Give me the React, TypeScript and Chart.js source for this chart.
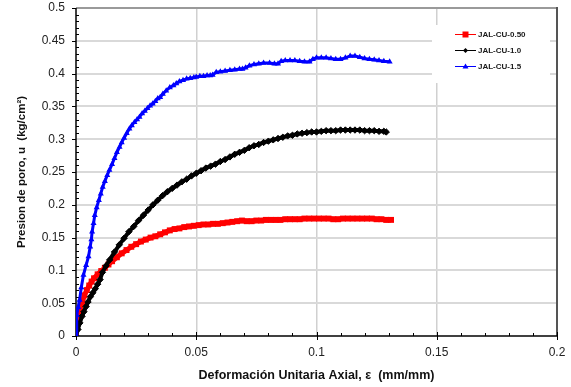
import React, { useEffect, useRef } from "react";
import { Chart, registerables } from "chart.js";

Chart.register(...registerables);

const seriesNames = ["JAL-CU-0.50", "JAL-CU-1.0", "JAL-CU-1.5"];
const seriesColors = ["#ff0000", "#000000", "#0000ff"];

const redStrain = [0, 0.0005, 0.001, 0.0017, 0.0025, 0.0035, 0.0045, 0.0055, 0.0065, 0.0075, 0.009, 0.0105, 0.012, 0.0135, 0.015, 0.017, 0.019, 0.021, 0.023, 0.025, 0.027, 0.029, 0.031, 0.033, 0.035, 0.037, 0.039, 0.041, 0.043, 0.045, 0.047, 0.049, 0.051, 0.053, 0.055, 0.057, 0.059, 0.061, 0.063, 0.065, 0.067, 0.069, 0.071, 0.073, 0.075, 0.077, 0.079, 0.081, 0.083, 0.085, 0.087, 0.089, 0.091, 0.093, 0.095, 0.097, 0.099, 0.101, 0.103, 0.105, 0.107, 0.109, 0.111, 0.113, 0.115, 0.117, 0.119, 0.121, 0.123, 0.125, 0.127, 0.129, 0.131];
const redPressure = [0.005, 0.02, 0.03, 0.04, 0.05, 0.062, 0.07, 0.077, 0.083, 0.088, 0.094, 0.099, 0.104, 0.109, 0.114, 0.12, 0.126, 0.131, 0.136, 0.14, 0.144, 0.147, 0.15, 0.152, 0.155, 0.158, 0.161, 0.163, 0.164, 0.166, 0.167, 0.168, 0.169, 0.17, 0.17, 0.171, 0.171, 0.172, 0.173, 0.174, 0.175, 0.176, 0.175, 0.175, 0.176, 0.176, 0.177, 0.177, 0.177, 0.177, 0.178, 0.178, 0.178, 0.178, 0.179, 0.179, 0.179, 0.179, 0.179, 0.179, 0.178, 0.178, 0.179, 0.179, 0.179, 0.179, 0.179, 0.179, 0.179, 0.178, 0.178, 0.177, 0.177];

const blackStrain = [0, 0.0008, 0.0016, 0.0025, 0.0033, 0.0042, 0.005, 0.006, 0.007, 0.008, 0.009, 0.01, 0.011, 0.0125, 0.014, 0.016, 0.018, 0.02, 0.022, 0.024, 0.026, 0.028, 0.03, 0.032, 0.034, 0.036, 0.038, 0.04, 0.042, 0.044, 0.046, 0.048, 0.05, 0.052, 0.054, 0.056, 0.058, 0.06, 0.062, 0.064, 0.066, 0.068, 0.07, 0.072, 0.074, 0.076, 0.078, 0.08, 0.082, 0.084, 0.086, 0.088, 0.09, 0.092, 0.094, 0.096, 0.098, 0.1, 0.102, 0.104, 0.106, 0.108, 0.11, 0.112, 0.114, 0.116, 0.118, 0.12, 0.122, 0.124, 0.126, 0.128, 0.129];
const blackPressure = [0, 0.01, 0.02, 0.03, 0.037, 0.045, 0.052, 0.06, 0.066, 0.072, 0.079, 0.086, 0.097, 0.107, 0.116, 0.128, 0.139, 0.149, 0.159, 0.167, 0.176, 0.184, 0.192, 0.2, 0.207, 0.214, 0.22, 0.225, 0.23, 0.235, 0.239, 0.244, 0.248, 0.252, 0.256, 0.259, 0.262, 0.266, 0.269, 0.273, 0.277, 0.28, 0.283, 0.287, 0.29, 0.292, 0.295, 0.297, 0.299, 0.301, 0.303, 0.305, 0.306, 0.308, 0.309, 0.31, 0.311, 0.311, 0.312, 0.313, 0.313, 0.313, 0.314, 0.314, 0.314, 0.314, 0.314, 0.313, 0.313, 0.313, 0.312, 0.312, 0.311];

const blueStrain = [0, 0.0003, 0.0009, 0.0015, 0.0022, 0.0031, 0.0042, 0.0052, 0.0059, 0.0064, 0.0067, 0.0073, 0.0078, 0.0086, 0.0095, 0.0103, 0.0111, 0.012, 0.013, 0.0139, 0.015, 0.016, 0.017, 0.0181, 0.019, 0.02, 0.0211, 0.0222, 0.0232, 0.0243, 0.0254, 0.0264, 0.0275, 0.0286, 0.0297, 0.0308, 0.0319, 0.033, 0.034, 0.035, 0.0361, 0.0375, 0.039, 0.0405, 0.0417, 0.043, 0.0445, 0.046, 0.0475, 0.049, 0.05, 0.0515, 0.053, 0.0545, 0.0558, 0.0568, 0.0583, 0.06, 0.062, 0.064, 0.066, 0.068, 0.0692, 0.0705, 0.0721, 0.074, 0.076, 0.078, 0.0805, 0.0825, 0.084, 0.0853, 0.087, 0.089, 0.091, 0.093, 0.095, 0.0971, 0.0985, 0.1, 0.102, 0.104, 0.106, 0.108, 0.11, 0.112, 0.114, 0.116, 0.118, 0.12, 0.122, 0.124, 0.126, 0.128, 0.1304];
const bluePressure = [0, 0.032, 0.044, 0.055, 0.074, 0.093, 0.108, 0.121, 0.136, 0.147, 0.159, 0.172, 0.184, 0.196, 0.207, 0.217, 0.227, 0.236, 0.245, 0.253, 0.262, 0.271, 0.28, 0.288, 0.295, 0.302, 0.309, 0.316, 0.321, 0.326, 0.33, 0.334, 0.339, 0.343, 0.347, 0.351, 0.354, 0.358, 0.362, 0.364, 0.369, 0.374, 0.379, 0.382, 0.385, 0.388, 0.39, 0.392, 0.393, 0.394, 0.395, 0.396, 0.396, 0.397, 0.397, 0.398, 0.402, 0.403, 0.404, 0.405, 0.406, 0.407, 0.407, 0.409, 0.412, 0.414, 0.415, 0.416, 0.416, 0.415, 0.415, 0.419, 0.42, 0.42, 0.42, 0.419, 0.418, 0.418, 0.422, 0.424, 0.424, 0.424, 0.423, 0.422, 0.422, 0.424, 0.427, 0.427, 0.425, 0.423, 0.422, 0.421, 0.42, 0.419, 0.418];

const xTitle = "Deformación Unitaria Axial, ε  (mm/mm)";
const yTitle = "Presion de poro, u  (kg/cm²)";
const xMin = 0, xMax = 0.2, xStep = 0.05, xMinorStep = 0.01;
const yMin = 0, yMax = 0.5, yStep = 0.05, yMinorStep = 0.01;

const FONT = "'Liberation Sans', Arial, sans-serif";

function pts(xs: number[], ys: number[]) {
  return xs.map((x, i) => ({ x, y: ys[i] }));
}

function drawMarker(ctx: CanvasRenderingContext2D, style: string, x: number, y: number, color: string) {
  ctx.fillStyle = color;
  ctx.beginPath();
  if (style === "rect") {
    ctx.rect(x - 3, y - 3, 6, 6);
  } else if (style === "rectRot") {
    ctx.moveTo(x, y - 2.5);
    ctx.lineTo(x + 2.5, y);
    ctx.lineTo(x, y + 2.5);
    ctx.lineTo(x - 2.5, y);
    ctx.closePath();
  } else {
    ctx.moveTo(x, y - 3);
    ctx.lineTo(x + 3, y + 2);
    ctx.lineTo(x - 3, y + 2);
    ctx.closePath();
  }
  ctx.fill();
}

const framePlugin = {
  id: "frame",
  beforeDatasetsDraw(chart: any) {
    const { ctx, chartArea: a, scales } = chart;
    const xs = scales.x;
    const ys = scales.y;
    const line = (x1: number, y1: number, x2: number, y2: number) => {
      ctx.beginPath();
      ctx.moveTo(x1, y1);
      ctx.lineTo(x2, y2);
      ctx.stroke();
    };
    ctx.save();
    ctx.strokeStyle = "#555555";
    ctx.lineWidth = 2;
    line(a.right, a.top - 1, a.right, a.bottom);
    ctx.strokeStyle = "#000000";
    ctx.lineWidth = 1;
    const ny = Math.round((yMax - yMin) / yMinorStep);
    for (let i = 0; i <= ny; i++) {
      const py = Math.round(ys.getPixelForValue(yMin + i * yMinorStep)) + 0.5;
      if (i % 5 === 0) line(a.left - 4, py, a.left, py);
      else line(a.left, py, a.left + 3, py);
    }
    const nx = Math.round((xMax - xMin) / xMinorStep);
    for (let i = 0; i <= nx; i++) {
      const px = Math.round(xs.getPixelForValue(xMin + i * xMinorStep)) + 0.5;
      if (i % 5 === 0) line(px, a.bottom - 4, px, a.bottom + 4);
      else line(px, a.bottom - 3, px, a.bottom);
    }
    ctx.lineWidth = 1.5;
    line(a.left, a.top, a.left, a.bottom);
    line(a.left, a.bottom, a.right, a.bottom);
    ctx.restore();
  },
  afterDatasetsDraw(chart: any) {
    const { ctx } = chart;
    ctx.save();
    ctx.fillStyle = "#ffffff";
    ctx.fillRect(432, 25, 118, 58);
    const styles = ["rect", "rectRot", "triangle"];
    const rows = [34, 50, 66];
    ctx.font = "bold 8px " + FONT;
    ctx.textBaseline = "middle";
    ctx.textAlign = "left";
    seriesNames.forEach((name, i) => {
      const y = rows[i] + 0.5;
      ctx.strokeStyle = seriesColors[i];
      ctx.lineWidth = 1;
      ctx.beginPath();
      ctx.moveTo(455, y);
      ctx.lineTo(476, y);
      ctx.stroke();
      drawMarker(ctx, styles[i], 465.5, y, seriesColors[i]);
      ctx.fillStyle = "#1a1a1a";
      ctx.fillText(name, 478, y);
    });
    ctx.restore();
  },
};

export default function App() {
  const canvasRef = useRef<HTMLCanvasElement | null>(null);

  useEffect(() => {
    const canvas = canvasRef.current;
    if (!canvas) return;
    Chart.defaults.font.family = FONT;
    const chart = new Chart(canvas, {
      type: "scatter",
      data: {
        datasets: [
          {
            label: seriesNames[0],
            data: pts(redStrain, redPressure),
            showLine: true,
            borderColor: seriesColors[0],
            backgroundColor: seriesColors[0],
            borderWidth: 5,
            pointStyle: "rect",
            pointRadius: 4.2,
            pointBorderWidth: 0,
            order: 3,
          },
          {
            label: seriesNames[1],
            data: pts(blackStrain, blackPressure),
            showLine: true,
            borderColor: seriesColors[1],
            backgroundColor: seriesColors[1],
            borderWidth: 4,
            pointStyle: "rectRot",
            pointRadius: 3.2,
            pointBorderWidth: 1,
            order: 2,
          },
          {
            label: seriesNames[2],
            data: pts(blueStrain, bluePressure),
            showLine: true,
            borderColor: seriesColors[2],
            backgroundColor: seriesColors[2],
            borderWidth: 3,
            pointStyle: "triangle",
            pointRadius: 3.5,
            pointBorderWidth: 0,
            order: 1,
          },
        ],
      },
      options: {
        responsive: false,
        animation: false,
        layout: { padding: { left: 0, right: 14, top: 8, bottom: 0 } },
        plugins: { legend: { display: false }, tooltip: { enabled: false } },
        scales: {
          x: {
            type: "linear",
            min: xMin,
            max: xMax,
            border: { display: false },
            afterFit: (s: any) => {
              s.height = 51;
              s.paddingLeft = 0;
              s.paddingRight = 0;
            },
            ticks: {
              stepSize: xStep,
              padding: 9,
              color: "#222222",
              font: { size: 12 },
              callback: (v: any) => String(Number(Number(v).toFixed(2))),
            },
            grid: {
              drawTicks: false,
              color: (c: any) => {
                const v = c.tick ? c.tick.value : 0;
                if (Math.abs(v - xMin) < 1e-9 || Math.abs(v - xMax) < 1e-9) return "rgba(0,0,0,0)";
                return "#d0d0d0";
              },
              lineWidth: 1.5,
            },
            title: {
              display: true,
              text: xTitle,
              color: "#111111",
              font: { size: 12.5, weight: "bold" },
              padding: { top: 0, bottom: 4 },
            },
          },
          y: {
            type: "linear",
            min: yMin,
            max: yMax,
            border: { display: false },
            afterFit: (s: any) => {
              s.width = 76;
              s.paddingTop = 0;
              s.paddingBottom = 0;
            },
            ticks: {
              stepSize: yStep,
              padding: 11,
              color: "#222222",
              font: { size: 12 },
              callback: (v: any) => String(Number(Number(v).toFixed(2))),
            },
            grid: {
              drawTicks: false,
              color: (c: any) => {
                const v = c.tick ? c.tick.value : 0;
                if (Math.abs(v - yMin) < 1e-9) return "rgba(0,0,0,0)";
                if (Math.abs(v - yMax) < 1e-9) return "#9a9a9a";
                return "#d9d9d9";
              },
              lineWidth: 2,
            },
            title: {
              display: true,
              text: yTitle,
              color: "#111111",
              font: { size: 11.5, weight: "bold" },
              padding: { top: 15, bottom: 0 },
            },
          },
        },
      },
      plugins: [framePlugin],
    } as any);
    return () => chart.destroy();
  }, []);

  return (
    <div style={{ position: "absolute", left: 0, top: 0, width: 571, height: 387, background: "#ffffff" }}>
      <canvas ref={canvasRef} width={571} height={387} />
    </div>
  );
}
